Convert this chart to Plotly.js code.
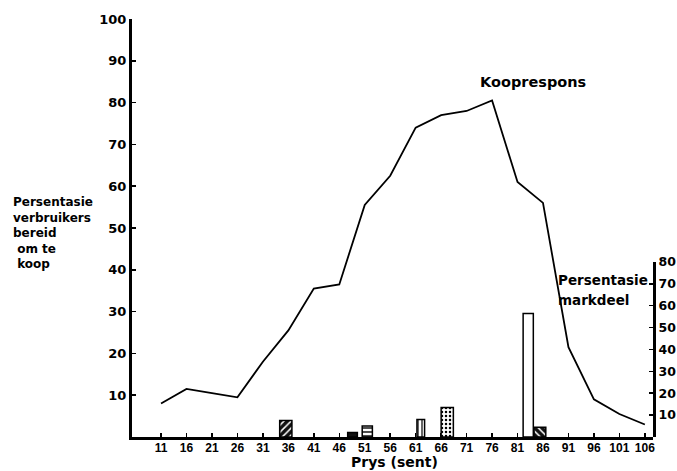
<!DOCTYPE html>
<html>
<head>
<meta charset="utf-8">
<script src="https://cdn.plot.ly/plotly-3.0.1.min.js"></script>
<style>html,body{margin:0;padding:0;background:#fff;}#chart{width:677px;height:471px;}</style>
</head>
<body>
<div id="chart"></div>
<script>
// Purchase response curve: price (cents) vs % of consumers willing to buy
var prices = [11, 16, 21, 26, 31, 36, 41, 46, 51, 56, 61, 66, 71, 76, 81, 86, 91, 96, 101, 106];
var buyPct = [8, 11.5, 10.5, 9.5, 18, 25.5, 35.5, 36.5, 55.5, 62.5, 74, 77, 78, 80.5, 61, 56, 21.5, 9, 5.5, 3];

// Market share bars (price in cents, share %)
var barPrice = [35.5, 48.6, 51.5, 62, 67.2, 83.1, 85.4];
var barShare = [7.5, 2, 5, 8, 13.5, 56.5, 4.5];

var xTicks = [11, 16, 21, 26, 31, 36, 41, 46, 51, 56, 61, 66, 71, 76, 81, 86, 91, 96, 101, 106];
var yTicksLeft = [10, 20, 30, 40, 50, 60, 70, 80, 90, 100];
var yTicksRight = [10, 20, 30, 40, 50, 60, 70, 80];

var leftLabel = ['Persentasie', 'verbruikers', 'bereid', '\u00a0om te', '\u00a0koop'];
var rightLabel = ['Persentasie', 'markdeel'];
var xTitle = 'Prys (sent)';
var curveLabel = 'Kooprespons';

var F = "Liberation Sans, Arial, sans-serif";
var D = "DejaVu Sans, Verdana, sans-serif";

// bar styles (appearance only)
var barStyle = [
  {w: 2.4, color: '#111', shape: '/', fg: '#fff', size: 5, sol: 0.3},
  {w: 1.9, color: '#111', shape: '', fg: '#111', size: 5, sol: 0.3},
  {w: 2.0, color: '#fff', shape: '-', fg: '#000', size: 4, sol: 0.35},
  {w: 1.5, color: '#fff', shape: '|', fg: '#000', size: 4, sol: 0.3},
  {w: 2.4, color: '#fff', shape: '.', fg: '#000', size: 4, sol: 0.3},
  {w: 2.0, color: '#fff', shape: '', fg: '#fff', size: 5, sol: 0.3},
  {w: 2.3, color: '#111', shape: '\\', fg: '#fff', size: 5, sol: 0.3}
];

var traces = [
  {
    x: prices, y: buyPct, type: 'scatter', mode: 'lines',
    line: {color: '#000', width: 1.8}, xaxis: 'x', yaxis: 'y', hoverinfo: 'skip'
  }
];
for (var i = 0; i < barPrice.length; i++) {
  var s = barStyle[i];
  var mk = {color: s.color, line: {color: '#000', width: 1.5}};
  if (s.shape) {
    mk.pattern = {shape: s.shape, fgcolor: s.fg, bgcolor: s.color, size: s.size, solidity: s.sol, fillmode: 'replace'};
  }
  traces.push({
    x: [barPrice[i]], y: [barShare[i]], type: 'bar', xaxis: 'x', yaxis: 'y2',
    width: [s.w], marker: mk, hoverinfo: 'skip'
  });
}

var annotations = [
  {text: curveLabel, xref: 'x', yref: 'y', x: 84.1, y: 85, showarrow: false,
   font: {family: D, size: 14.5, weight: 'bold', color: '#000'}},
  {text: xTitle, xref: 'paper', yref: 'paper', x: (394.5 - 132) / 521, y: -(471 - 437) / 418,
   xanchor: 'center', yanchor: 'bottom', showarrow: false, borderpad: 0,
   font: {family: D, size: 14, weight: 'bold', color: '#000'}},
  {text: leftLabel.join('<br>'), xref: 'paper', yref: 'paper',
   x: (12 - 132) / 521, y: (437 - 233) / 418, xanchor: 'left', yanchor: 'middle', align: 'left',
   showarrow: false, borderpad: 0, font: {family: D, size: 12, weight: 'bold', color: '#000'}}
];
var rightY = [280, 300];
for (var k = 0; k < rightLabel.length; k++) {
  annotations.push({text: rightLabel[k], xref: 'paper', yref: 'paper',
    x: (557 - 132) / 521, y: (437 - rightY[k]) / 418, xanchor: 'left', yanchor: 'middle',
    showarrow: false, borderpad: 0, font: {family: D, size: 13.5, weight: 'bold', color: '#000'}});
}

var layout = {
  width: 677, height: 471,
  margin: {l: 132, r: 24, t: 19, b: 34, pad: 0},
  paper_bgcolor: '#fff', plot_bgcolor: 'rgba(0,0,0,0)',
  showlegend: false, barmode: 'overlay',
  font: {family: F, color: '#000', size: 11},
  xaxis: {
    range: [5.3, 107.6], tickvals: xTicks, ticktext: xTicks.map(String),
    showline: true, linecolor: '#000', linewidth: 3,
    ticks: 'inside', ticklen: 4, tickwidth: 1.5, tickcolor: '#000',
    showgrid: false, zeroline: false, ticklabelstandoff: -2,
    tickfont: {family: F, size: 12, weight: 'bold', color: '#000'}
  },
  yaxis: {
    range: [0, 100], tickvals: yTicksLeft, ticktext: yTicksLeft.map(String),
    showline: true, linecolor: '#000', linewidth: 3,
    ticks: 'inside', ticklen: 4, tickwidth: 1.5, tickcolor: '#000',
    showgrid: false, zeroline: false,
    tickfont: {family: D, size: 13, weight: 'bold', color: '#000'}
  },
  yaxis2: {
    domain: [0, 0.4187], anchor: 'x', side: 'right',
    range: [0, 80], tickvals: yTicksRight, ticktext: yTicksRight.map(String),
    showline: true, linecolor: '#000', linewidth: 3,
    ticks: 'inside', ticklen: 4, tickwidth: 1.5, tickcolor: '#000',
    showgrid: false, zeroline: false,
    tickfont: {family: D, size: 12.5, weight: 'bold', color: '#000'}
  },
  annotations: annotations
};

Plotly.newPlot('chart', traces, layout, {displayModeBar: false, staticPlot: true});
</script>
</body>
</html>
